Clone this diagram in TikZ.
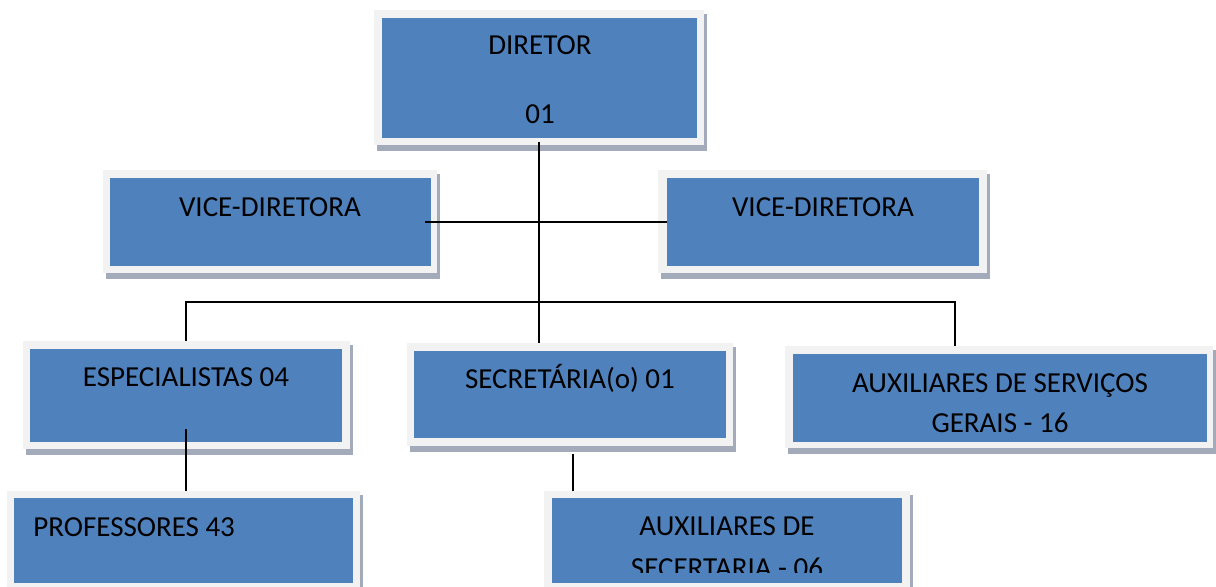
\documentclass[tikz,border=0pt]{standalone}
\usepackage{fontspec}
\setmainfont{Carlito}
\definecolor{boxblue}{HTML}{4F81BD}
\definecolor{framec}{HTML}{F2F2F2}
\definecolor{shadowc}{HTML}{A3ABBB}
\tikzset{
  framebox/.style={fill=framec, draw=none, inner sep=0pt},
  bluebox/.style={fill=boxblue, draw=none, inner sep=0pt},
  lbl/.style={font=\fontsize{14.5}{17}\selectfont, inner sep=0pt, anchor=base, text=black},
  link/.style={draw=black, line width=1pt},
}
% #1 name, #2-#5 outer x0 y0 x1 y1, #6-#9 inner x0 y0 x1 y1 (pixels)
\newcommand\orgbox[9]{%
  \fill[shadowc] (#2+3,#3+4) rectangle (#4+3,#5+6);
  \pgfmathsetmacro\obw{(#4-#2)*0.5}\pgfmathsetmacro\obh{(#5-#3)*0.5}%
  \pgfmathsetmacro\obx{(#2+#4)/2}\pgfmathsetmacro\oby{(#3+#5)/2}%
  \node[framebox, minimum width=\obw pt, minimum height=\obh pt] (#1f) at (\obx,\oby) {};
  \pgfmathsetmacro\ibw{(#8-#6)*0.5}\pgfmathsetmacro\ibh{(#9-#7)*0.5}%
  \pgfmathsetmacro\ibx{(#6+#8)/2}\pgfmathsetmacro\iby{(#7+#9)/2}%
  \node[bluebox, minimum width=\ibw pt, minimum height=\ibh pt] (#1) at (\ibx,\iby) {};
}
\begin{document}
\begin{tikzpicture}[x=0.5pt, y=-0.5pt]
\useasboundingbox (0,0) rectangle (1216,587);
\begin{scope}
\clip (0,0) rectangle (1216,587);
\orgbox{dir}{374}{10}{704}{145}{382}{18}{697}{138}
\orgbox{vl}{103}{170}{437}{273}{110}{178}{431}{266}
\orgbox{vr}{658}{170}{987}{273}{667}{178}{979}{266}
\orgbox{esp}{23}{341}{350}{449}{30}{349}{342}{442}
\orgbox{sec}{407}{343}{733}{446}{414}{351}{726}{438}
\orgbox{aux}{785}{346}{1213}{448}{793}{354}{1207}{442}
\orgbox{prof}{7}{491}{360}{595}{14}{498}{353}{583}
\orgbox{auxsec}{544}{491}{910}{595}{552}{498}{902}{583}
\end{scope}

\node[lbl] (tdir) at (540,55) {DIRETOR};
\node[lbl] (tdirn) at (540,124) {01};
\node[lbl] (tvl) at (270,217) {VICE-DIRETORA};
\node[lbl] (tvr) at (823,217) {VICE-DIRETORA};
\node[lbl] (tesp) at (186,387) {ESPECIALISTAS 04};
\node[lbl] (tsec) at (570,389) {SECRETÁRIA(o) 01};
\node[lbl] (taux1) at (1000,393) {AUXILIARES DE SERVIÇOS};
\node[lbl] (taux2) at (1000,433) {GERAIS - 16};
\node[lbl, anchor=base west] (tprof) at (33,537) {PROFESSORES 43};
\node[lbl] (tas1) at (727,536) {AUXILIARES DE};
\begin{scope}
\clip (552,498) rectangle (902,573);
\node[lbl] (tas2) at (727,577) {SECERTARIA - 06};
\end{scope}

% connectors
\coordinate (dirlow) at (539,142);
\coordinate (vlend) at (425,222);
\coordinate (busl) at (186,302);
\coordinate (busr) at (955,302);
\coordinate (esplow) at (186,429);
\coordinate (seclow) at (573,454);
\draw[link] (dirlow) -- (dirlow |- secf.north);
\draw[link] (vlend) -- (vr.west);
\draw[link] (espf.north -| busl) -- (busl) -- (busr) -- (busr |- auxf.north);
\draw[link] (esplow) -- (esplow |- proff.north);
\draw[link] (seclow) -- (seclow |- auxsecf.north);
\end{tikzpicture}
\end{document}
